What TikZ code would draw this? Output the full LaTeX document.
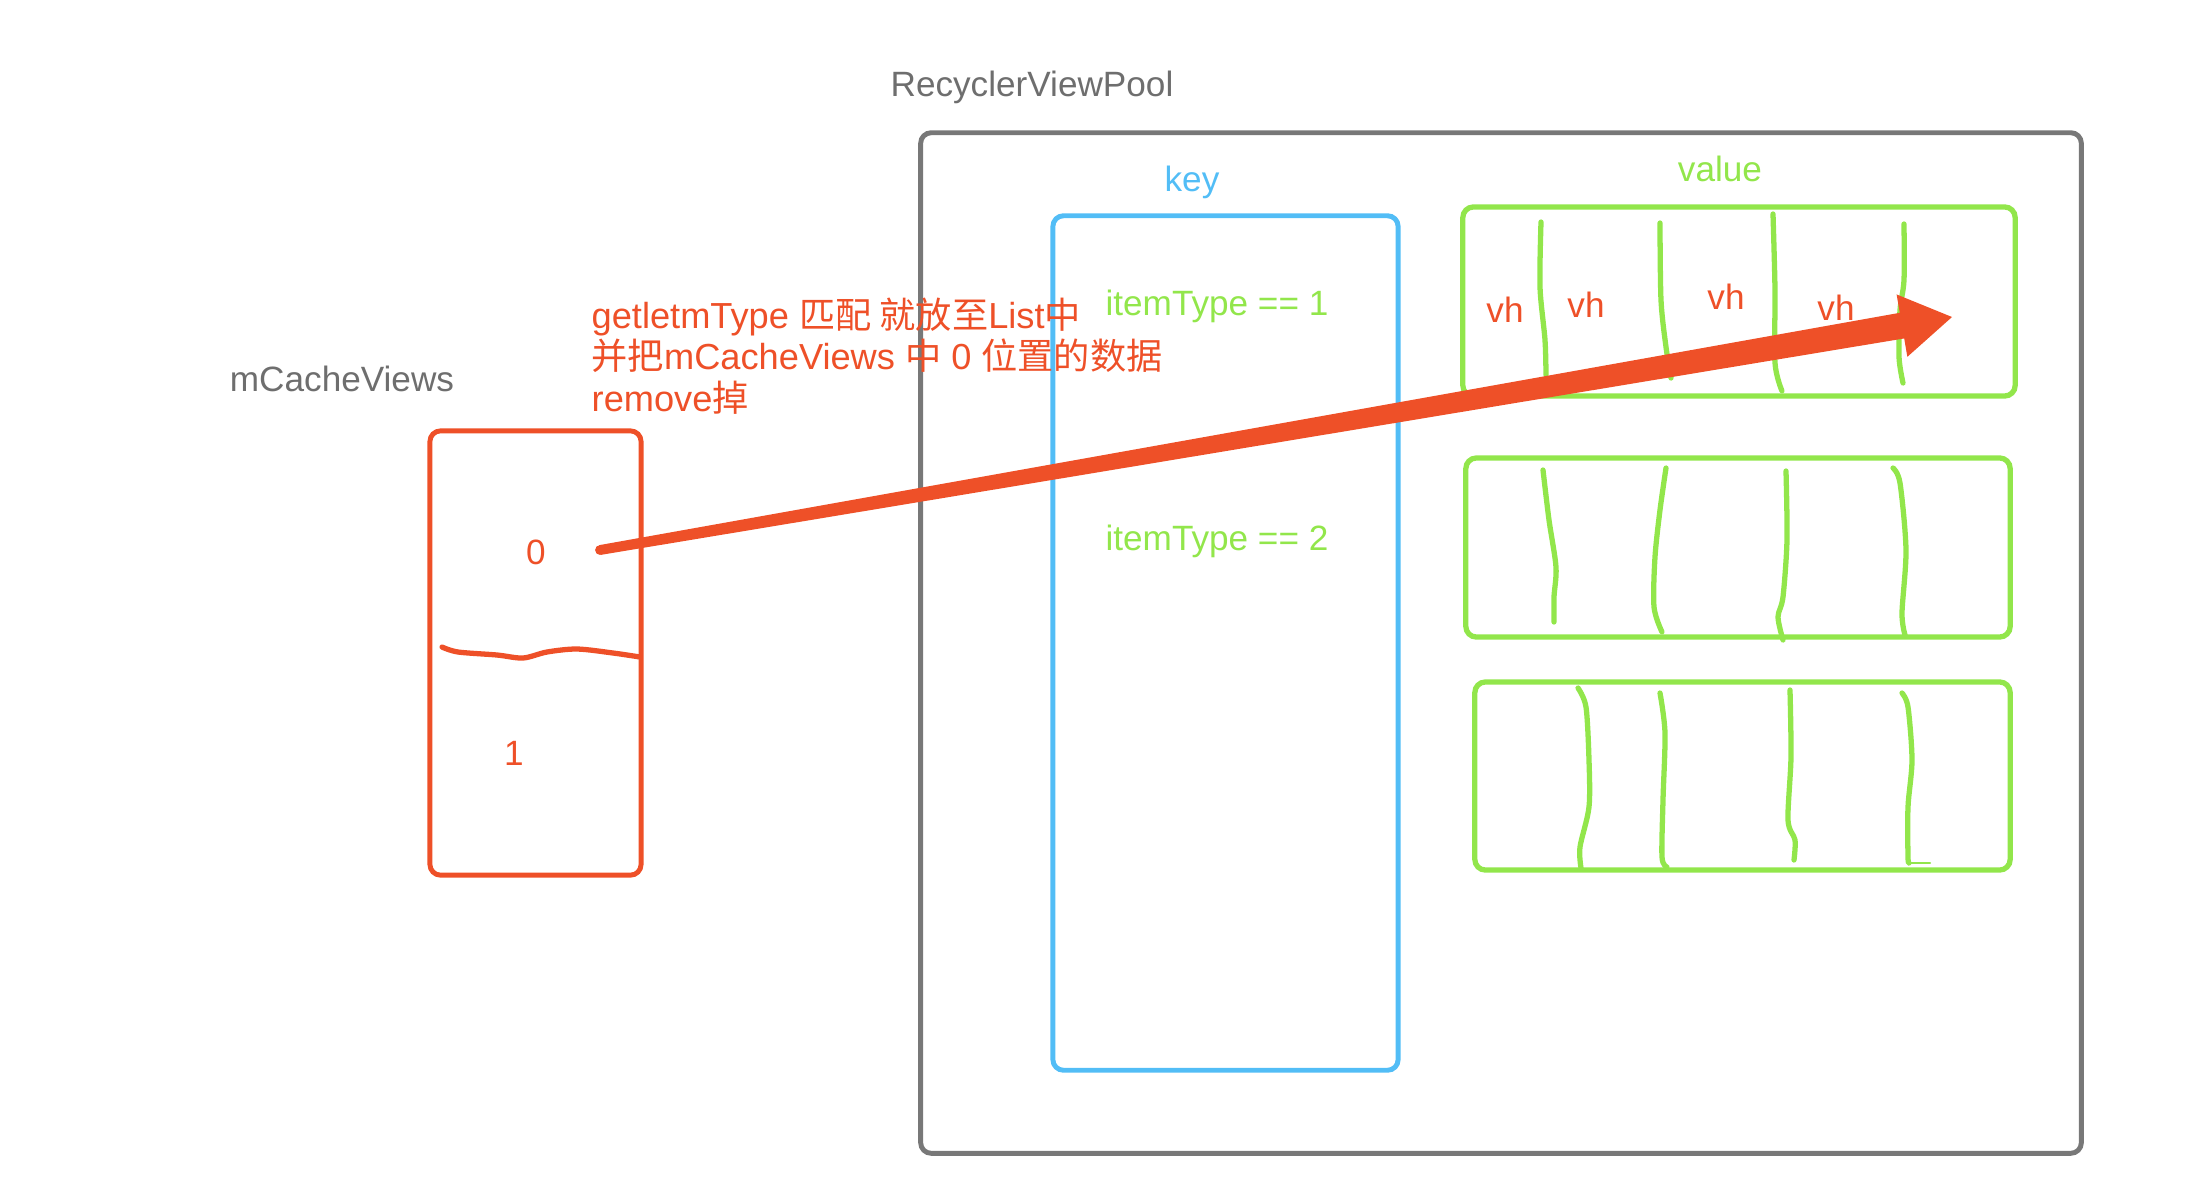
\documentclass[tikz,border=0pt]{standalone}
\usepackage{fontspec}
\setmainfont{Liberation Sans}
\newfontfamily\cjk{Noto Sans CJK SC}
\usetikzlibrary{calc}

\definecolor{noteRed}{HTML}{EE5028}
\definecolor{vhGreen}{HTML}{92E64B}
\definecolor{keyBlue}{HTML}{52BDF6}
\definecolor{poolGray}{HTML}{787878}
\definecolor{labelGray}{HTML}{6E6E6E}

\tikzset{
  box/.style={draw, line width=1.4pt, rounded corners=3pt, inner sep=0pt},
  lbl/.style={inner sep=0pt, font=\fontsize{10}{12}\selectfont},
  slot/.style={draw=vhGreen, line width=1.5pt, line cap=round, line join=round},
}

\begin{document}
\begin{tikzpicture}[x=0.01cm, y=-0.01cm]
  \useasboundingbox (0,0) rectangle (2196,1178);
  % labels
  \node[lbl, text=labelGray] (poolname) at (1032,87) {RecyclerViewPool};
  \node[lbl, text=labelGray] (cachename) at (342,379) {mCacheViews};
  % pool and its key column
  \node[box, draw=poolGray, minimum width=11.6cm, minimum height=10.2cm] (pool) at (1501,643) {};
  \node[box, draw=keyBlue, minimum width=3.45cm, minimum height=8.54cm] (keys) at (1225.5,643) {};
  \node[lbl, text=keyBlue] (keyname) at (1192,182) {key};
  \node[lbl, text=vhGreen] (valuename) at (1720,169) {value};
  \node[lbl, text=vhGreen] (type1) at (1217,306) {itemType == 1};
  \node[lbl, text=vhGreen] (type2) at (1217,541) {itemType == 2};
  % value lists
  \node[box, draw=vhGreen, line width=1.5pt, minimum width=5.52cm, minimum height=1.89cm] (list1) at (1739,301.5) {};
  \node[box, draw=vhGreen, line width=1.5pt, minimum width=5.44cm, minimum height=1.79cm] (list2) at (1738,547.5) {};
  \node[box, draw=vhGreen, line width=1.5pt, minimum width=5.35cm, minimum height=1.88cm] (list3) at (1742.5,776) {};
  % dividers, list 1
  \draw[slot] plot[smooth] coordinates {(1541,222) (1540,287) (1545,340) (1546,375)};
  \draw[slot] plot[smooth] coordinates {(1660,223) (1661,300) (1666,347) (1671,378)};
  \draw[slot] plot[smooth] coordinates {(1773,214) (1775,290) (1775,363) (1782,391)};
  \draw[slot] plot[smooth] coordinates {(1904,224) (1904,280) (1900,310) (1899,357) (1903,383)};
  % dividers, list 2
  \draw[slot] plot[smooth] coordinates {(1543,470) (1549,520) (1556,567) (1554,597) (1554,622)};
  \draw[slot] plot[smooth] coordinates {(1666,468) (1660,510) (1655,557) (1654,607) (1662,632)};
  \draw[slot] plot[smooth] coordinates {(1786,471) (1787,540) (1783,597) (1778,617) (1783,640)};
  \draw[slot] plot[smooth] coordinates {(1893,468) (1900,483) (1906,550) (1902,613) (1905,635)};
  % dividers, list 3
  \draw[slot] plot[smooth] coordinates {(1578,688) (1586,707) (1589,760) (1589,807) (1580,847) (1581,868)};
  \draw[slot] plot[smooth] coordinates {(1660,693) (1665,733) (1663,800) (1662,857) (1667,867)};
  \draw[slot] plot[smooth] coordinates {(1790,690) (1791,757) (1788,820) (1795,840) (1794,860)};
  \draw[slot] plot[smooth] coordinates {(1902,693) (1908,707) (1912,760) (1908,807) (1908,857) (1909,863)};
  \draw[slot, line width=0.6pt] (1909,863) -- (1930,863);
  % holders
  \foreach \x/\y [count=\i] in {1505/310, 1586/305, 1726/297, 1836/308}
    \node[lbl, text=noteRed] (vh\i) at (\x,\y) {vh};
  % mCacheViews
  \node[box, draw=noteRed, minimum width=2.11cm, minimum height=4.44cm] (cache) at (535.5,653) {};
  \node[lbl, text=noteRed] (slot0) at (536,552) {0};
  \node[lbl, text=noteRed] (slot1) at (514,753) {1};
  \draw[noteRed, line width=1.5pt, line cap=round] plot[smooth] coordinates
    {(442,647) (458,652) (497,655) (523,658) (547,652) (577,649) (613,653) (640,657)};
  % note
  \node[lbl, font=\fontsize{10.3}{11.8}\selectfont, text=noteRed, align=left, anchor=west] (note) at (591,356)
    {getletmType {\cjk 匹配 就放至}List{\cjk 中}\\{\cjk 并把}mCacheViews {\cjk 中} 0 {\cjk 位置的数据}\\remove{\cjk 掉}};
  % move arrow
  \coordinate (tail) at (600,550);
  \coordinate (tip) at (1952,317);
  \coordinate (neck) at ($(tail)!0.963!(tip)$);
  \fill[noteRed] ($(tail)!1.4pt!90:(tip)$) -- ($(neck)!3.7pt!90:(tip)$)
    -- ($(neck)!9pt!90:(tip)$) -- (tip) -- ($(neck)!9pt!-90:(tip)$)
    -- ($(neck)!3.7pt!-90:(tip)$) -- ($(tail)!1.4pt!-90:(tip)$) -- cycle;
  \fill[noteRed] (tail) circle[radius=1.4pt];
\end{tikzpicture}
\end{document}
